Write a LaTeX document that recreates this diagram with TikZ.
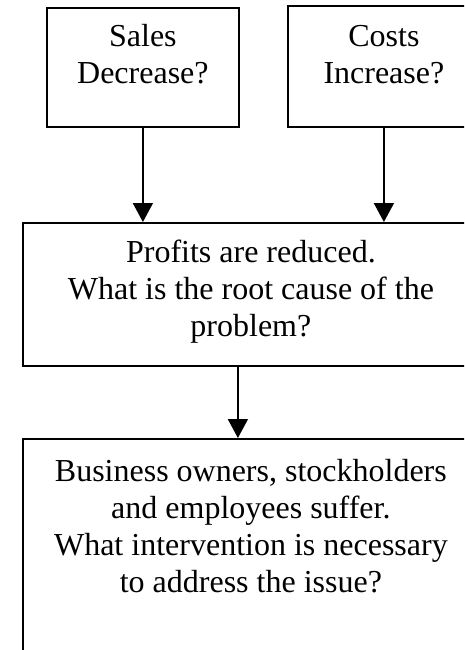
\documentclass[tikz,border=0pt]{standalone}
\usepackage{fontspec}
\setmainfont{Liberation Serif}
\usetikzlibrary{arrows.meta}
\begin{document}
\begin{tikzpicture}[x=1pt,y=1pt,
  box/.style={draw, line width=1.8pt, rectangle, inner sep=0pt, anchor=north west},
  txt/.style={inner sep=0pt, anchor=north, align=center,
              font=\fontsize{32}{36.8}\selectfont},
  arr/.style={line width=1.8pt, -{Triangle[width=20pt,length=19pt]}}]
\useasboundingbox (0,0) rectangle (464,-650);
\clip (0,0) rectangle (464,-650);

% question boxes on top
\node[box, minimum width=192pt, minimum height=119pt] (sales) at (46,-7) {};
\node[box, minimum width=192pt, minimum height=121pt] (costs) at (287,-5) {};
% consequence boxes
\node[box, minimum width=456pt, minimum height=143pt] (profits) at (22,-222) {};
\node[box, minimum width=456pt, minimum height=260pt] (suffer) at (22,-438) {};

% box texts (first baseline placed by the leading strut)
\node[txt] (salesT) at ([yshift=-9.7pt]sales.north)
  {\rule{0pt}{30pt}Sales\\Decrease?};
\node[txt] (costsT) at ([yshift=-11.7pt]costs.north)
  {\rule{0pt}{30pt}Costs\\Increase?};
\node[txt] (profitsT) at ([yshift=-10.7pt]profits.north)
  {\rule{0pt}{30pt}Profits are reduced.\\What is the root cause of the\\problem?};
\node[txt] (sufferT) at ([yshift=-13.7pt]suffer.north)
  {\rule{0pt}{30pt}Business owners, stockholders\\and employees suffer.\\What intervention is necessary\\to address the issue?};

% connectors
\draw[arr] (sales.south) -- (sales.south |- profits.north);
\draw[arr] (costs.south) -- (costs.south |- profits.north);
\draw[arr] ([xshift=-13pt]profits.south) -- ([xshift=-13pt]suffer.north);
\end{tikzpicture}
\end{document}
